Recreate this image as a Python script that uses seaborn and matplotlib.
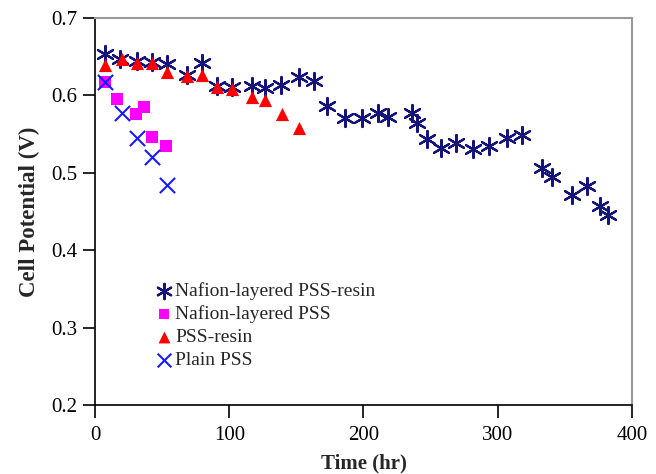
import numpy as np
import pandas as pd
import matplotlib
matplotlib.use("Agg")
import matplotlib.pyplot as plt
import seaborn as sns

# Data (time in hr, cell potential in V)
t_nafion_resin = [7.4, 18.6, 31.3, 42.5, 53.6, 68.5, 79.7, 90.9, 102.0, 116.9, 126.6, 138.5,
                  152.0, 163.2, 172.8, 186.2, 198.9, 210.8, 218.2, 236.1, 239.9, 247.3, 257.7,
                  268.9, 281.6, 293.5, 306.9, 318.1, 333.0, 340.4, 355.3, 366.5, 376.2, 382.1]
v_nafion_resin = [0.653, 0.647, 0.644, 0.643, 0.641, 0.626, 0.642, 0.612, 0.611, 0.612, 0.610, 0.613,
                  0.624, 0.619, 0.586, 0.571, 0.571, 0.577, 0.572, 0.577, 0.564, 0.544, 0.532,
                  0.539, 0.531, 0.535, 0.545, 0.549, 0.506, 0.495, 0.471, 0.483, 0.457, 0.445]

t_nafion_pss = [7.4, 16.4, 30.5, 36.5, 42.5, 52.9]
v_nafion_pss = [0.617, 0.595, 0.576, 0.585, 0.546, 0.535]

t_resin = [7.4, 20.1, 31.3, 42.5, 53.6, 68.5, 79.7, 90.9, 102.0, 116.9, 126.6, 139.3, 152.0]
v_resin = [0.639, 0.647, 0.642, 0.642, 0.630, 0.625, 0.626, 0.611, 0.608, 0.598, 0.594, 0.576, 0.558]

t_plain = [7.4, 20.1, 31.3, 42.5, 53.6]
v_plain = [0.617, 0.577, 0.545, 0.520, 0.484]

x_ticks = [0, 100, 200, 300, 400]
y_ticks = [0.2, 0.3, 0.4, 0.5, 0.6, 0.7]

sns.set_style("white")
plt.rcParams['font.family'] = ['Liberation Serif', 'DejaVu Serif']

fig = plt.figure(figsize=(6.56, 4.74), dpi=100)
ax = fig.add_axes([0.1448, 0.1456, 0.8186, 0.8164])

sns.scatterplot(x=t_nafion_resin, y=v_nafion_resin, marker=(6, 2, 0), s=150,
                color='#14147a', linewidth=1.6, label='Nafion-layered PSS-resin', ax=ax, zorder=3)
sns.scatterplot(x=t_nafion_pss, y=v_nafion_pss, marker='s', s=75,
                color='#ff00ff', edgecolor='#ff00ff', linewidth=0, label='Nafion-layered PSS', ax=ax, zorder=2)
sns.scatterplot(x=t_resin, y=v_resin, marker='^', s=90,
                color='#ff0000', edgecolor='#ff0000', linewidth=0, label='PSS-resin', ax=ax, zorder=4)
sns.scatterplot(x=t_plain, y=v_plain, marker='x', s=120,
                color='#1a1aff', linewidth=1.5, label='Plain PSS', ax=ax, zorder=5)

ax.set_xlim(0, 400)
ax.set_ylim(0.2, 0.7)
ax.set_xticks(x_ticks)
ax.set_yticks(y_ticks)
ax.set_xticklabels([str(v) for v in x_ticks], fontsize=15)
ax.set_yticklabels([f"{v:.1f}" for v in y_ticks], fontsize=15)
ax.tick_params(direction='out', length=9, width=1.2, colors='black', left=True, bottom=True)
ax.tick_params(axis='x', pad=6)
ax.tick_params(axis='y', pad=4)
ax.set_xlabel('Time (hr)', fontsize=15, fontweight='bold', labelpad=6)
ax.set_ylabel('Cell Potential (V)', fontsize=16.5, fontweight='bold', labelpad=8)

for side in ['left', 'bottom']:
    ax.spines[side].set_color('black')
    ax.spines[side].set_linewidth(1.2)
for side in ['top', 'right']:
    ax.spines[side].set_color('#999999')
    ax.spines[side].set_linewidth(1.5)

leg = ax.legend(loc='upper left', bbox_to_anchor=(0.095, 0.338), frameon=False,
                fontsize=14, handletextpad=0.0, labelspacing=0.28, borderaxespad=0,
                handlelength=1.1, markerscale=0.9)

fig.savefig('out.png', dpi=100)
